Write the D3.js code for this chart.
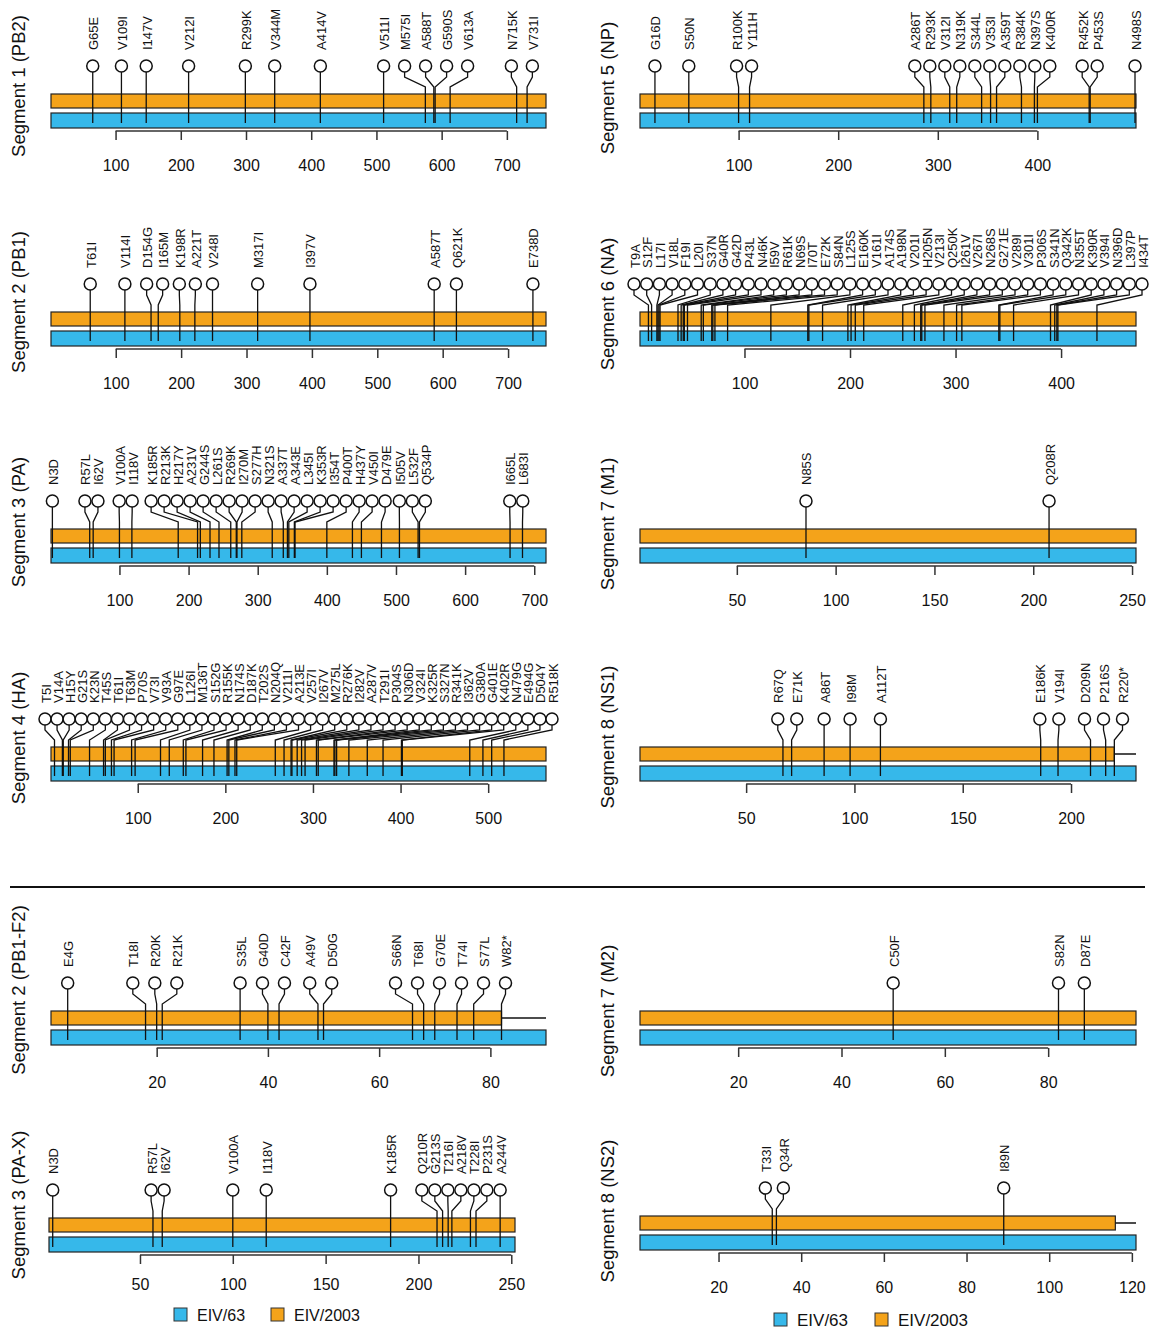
<!DOCTYPE html>
<html>
<head>
<meta charset="utf-8">
<script src="https://cdn.jsdelivr.net/npm/d3@7"></script>
<style>
  body { margin: 0; background: #fff; }
  text { font-family: "Liberation Sans", Arial, Helvetica, sans-serif; }
</style>
</head>
<body>
<div id="chart"></div>
<script>
// Panel titles, protein lengths (EIV/63 and EIV/2003) and tick values
const segTitles = ["Segment 1 (PB2)", "Segment 2 (PB1)", "Segment 3 (PA)", "Segment 4 (HA)",
                   "Segment 5 (NP)", "Segment 6 (NA)", "Segment 7 (M1)", "Segment 8 (NS1)",
                   "Segment 2 (PB1-F2)", "Segment 7 (M2)", "Segment 3 (PA-X)", "Segment 8 (NS2)"];
const len63   = [760, 758, 717, 566, 499, 471, 252, 230, 90, 97, 252, 121];
const len2003 = [760, 758, 717, 566, 499, 471, 252, 220, 82, 97, 252, 116];
const ticks = [
  [100, 200, 300, 400, 500, 600, 700],
  [100, 200, 300, 400, 500, 600, 700],
  [100, 200, 300, 400, 500, 600, 700],
  [100, 200, 300, 400, 500],
  [100, 200, 300, 400],
  [100, 200, 300, 400],
  [50, 100, 150, 200, 250],
  [50, 100, 150, 200],
  [20, 40, 60, 80],
  [20, 40, 60, 80],
  [50, 100, 150, 200, 250],
  [20, 40, 60, 80, 100, 120]
];

// Amino-acid changes per protein (position is the number in the label)
const mutPB2 = ["G65E", "V109I", "I147V", "V212I", "R299K", "V344M", "A414V", "V511I", "M575I",
                "A588T", "G590S", "V613A", "N715K", "V731I"];
const mutPB1 = ["T61I", "V114I", "D154G", "I165M", "K198R", "A221T", "V248I", "M317I", "I397V",
                "A587T", "Q621K", "E738D"];
const mutPA = ["N3D", "R57L", "I62V", "V100A", "I118V", "K185R", "R213K", "H217Y", "A231V", "G244S",
               "L261S", "R269K", "I270M", "S277H", "N321S", "A337T", "A343E", "L345I", "K353R",
               "I354T", "P400T", "H437Y", "V450I", "D479E", "I505V", "L532F", "Q534P", "I665L", "L683I"];
const mutHA = ["T5I", "V14A", "H15Y", "G21S", "K23N", "T45S", "T61I", "T63M", "P70S", "V73I", "V93A",
               "G97E", "L126I", "M136T", "S152G", "R155K", "N174S", "D187K", "T202S", "N204Q", "V211I",
               "A213E", "V257I", "I267V", "M275L", "R276K", "I282V", "A287V", "T291I", "P304S", "N306D",
               "V324I", "K325R", "S327N", "R341K", "I362V", "G380A", "G401E", "K402R", "N479G", "E494G",
               "D504Y", "R518K"];
const mutNP = ["G16D", "S50N", "R100K", "Y111H", "A286T", "R293K", "V312I", "N319K", "S344L", "V353I",
               "A359T", "R384K", "N397S", "K400R", "R452K", "P453S", "N498S"];
const mutNA = ["T9A", "S12F", "L17I", "V18L", "F19I", "L20I", "S37N", "G40R", "G42D", "P43L", "N46K",
               "I59V", "R61K", "N69S", "I70T", "E72K", "S84N", "L125S", "E160K", "V161I", "A174S",
               "A198N", "V201I", "H205N", "V213I", "Q250K", "I261V", "V267I", "N268S", "G271E", "V289I",
               "V301I", "P306S", "S341N", "Q342K", "N355T", "K390R", "V394I", "N396D", "L397P", "I434T"];
const mutM1 = ["N85S", "Q208R"];
const mutNS1 = ["R67Q", "E71K", "A86T", "I98M", "A112T", "E186K", "V194I", "D209N", "P216S", "R220*"];
const mutPB1F2 = ["E4G", "T18I", "R20K", "R21K", "S35L", "G40D", "C42F", "A49V", "D50G", "S66N",
                  "T68I", "G70E", "T74I", "S77L", "W82*"];
const mutM2 = ["C50F", "S82N", "D87E"];
const mutPAX = ["N3D", "R57L", "I62V", "V100A", "I118V", "K185R", "Q210R", "G213S", "T216I", "A218V",
                "T228I", "P231S", "A244V"];
const mutNS2 = ["T33I", "Q34R", "I89N"];
const mutations = [mutPB2, mutPB1, mutPA, mutHA, mutNP, mutNA, mutM1, mutNS1, mutPB1F2, mutM2, mutPAX, mutNS2];

const legendNames = ["EIV/63", "EIV/2003"];
const col63 = "#36b8ea", col2003 = "#f4a31a";

// layout of the 12 panels (gap = preferred spacing between lollipop heads)
const layout = [
  {x0: 51, x1: 546, cy: 66, tx: 18, ty: 86, gap: 21},
  {x0: 51, x1: 546, cy: 284, tx: 18, ty: 302, gap: 16},
  {x0: 51, x1: 546, cy: 501, tx: 18, ty: 522, gap: 13},
  {x0: 51, x1: 546, cy: 719, tx: 18, ty: 738, gap: 14},
  {x0: 640, x1: 1136, cy: 66, tx: 607, ty: 88, gap: 15},
  {x0: 640, x1: 1136, cy: 284, tx: 607, ty: 304, gap: 14},
  {x0: 640, x1: 1136, cy: 501, tx: 607, ty: 524, gap: 15},
  {x0: 640, x1: 1136, cy: 719, tx: 607, ty: 737, gap: 19},
  {x0: 51, x1: 546, cy: 983, tx: 18, ty: 990, gap: 22},
  {x0: 640, x1: 1136, cy: 983, tx: 607, ty: 1011, gap: 15},
  {x0: 49, x1: 515, cy: 1190, tx: 18, ty: 1205, gap: 13, pad: 15},
  {x0: 640, x1: 1136, cy: 1188, tx: 607, ty: 1211, gap: 18}
];

const W = 1161, H = 1330, R = 6;

const svg = d3.select("#chart").append("svg")
  .attr("width", W)
  .attr("height", H);

// spread lollipop heads so they don't overlap (cluster averaging)
function spread(xs, gap, lo, hi) {
  if (xs.length > 1) gap = Math.min(gap, (hi - lo) / (xs.length - 1));
  const clusters = [];
  xs.forEach(x => {
    clusters.push({n: 1, sum: x, pos: x});
    while (true) {
      const cur = clusters[clusters.length - 1];
      cur.pos = Math.max(lo, Math.min(hi - (cur.n - 1) * gap, cur.sum / cur.n));
      const prev = clusters[clusters.length - 2];
      if (prev && prev.pos + prev.n * gap > cur.pos) {
        prev.sum += cur.sum - cur.n * prev.n * gap;
        prev.n += cur.n;
        clusters.pop();
      } else break;
    }
  });
  const out = [];
  clusters.forEach(c => { for (let k = 0; k < c.n; k++) out.push(c.pos + k * gap); });
  return out;
}

function drawPanel(i) {
  const L = layout[i];
  const g = svg.append("g");
  const x = d3.scaleLinear().domain([1, len63[i]]).range([L.x0, L.x1]);

  const oTop = L.cy + 28, bTop = L.cy + 47, barH = 14;

  // title
  g.append("text")
    .attr("transform", `translate(${L.tx},${L.ty}) rotate(-90)`)
    .attr("text-anchor", "middle")
    .attr("dominant-baseline", "central")
    .attr("font-size", "18.5px")
    .attr("fill", "#111")
    .text(segTitles[i]);

  // bars
  const end2003 = x(len2003[i]);
  g.append("rect")
    .attr("x", x(1)).attr("y", oTop)
    .attr("width", end2003 - x(1)).attr("height", barH)
    .attr("fill", col2003).attr("stroke", "#222").attr("stroke-width", 1.2);
  if (len2003[i] < len63[i]) {
    g.append("line")
      .attr("x1", end2003).attr("x2", x(len63[i]))
      .attr("y1", oTop + barH / 2).attr("y2", oTop + barH / 2)
      .attr("stroke", "#111").attr("stroke-width", 1.5);
  }
  g.append("rect")
    .attr("x", x(1)).attr("y", bTop)
    .attr("width", x(len63[i]) - x(1)).attr("height", barH + 1)
    .attr("fill", col63).attr("stroke", "#222").attr("stroke-width", 1.2);

  // axis
  const ay = L.cy + 65;
  const axis = d3.axisBottom(x).tickValues(ticks[i]).tickSize(9)
    .tickPadding(L.pad || 20).tickSizeOuter(0);
  const ag = g.append("g").attr("transform", `translate(0,${ay})`).call(axis);
  ag.select(".domain")
    .attr("d", `M${x(ticks[i][0])},0H${x(ticks[i][ticks[i].length - 1])}`)
    .attr("stroke", "#333").attr("stroke-width", 1.5);
  ag.selectAll(".tick line").attr("stroke", "#333").attr("stroke-width", 1.5);
  ag.selectAll(".tick text")
    .attr("font-size", "16px")
    .attr("font-family", "Liberation Sans, Arial, sans-serif")
    .attr("fill", "#111");

  // lollipops
  const muts = mutations[i].map(m => ({label: m, pos: +m.match(/\d+/)[0]}))
    .sort((a, b) => a.pos - b.pos);
  const heads = spread(muts.map(d => x(d.pos)), L.gap, L.x0 - 6, L.x1 + 6);
  muts.forEach((d, k) => { d.cx = heads[k]; });

  const yBottom = bTop + barH - 4, yKink = oTop - 7, yKinkTop = L.cy + R + 5;
  g.selectAll("path.stem").data(muts).enter().append("path")
    .attr("class", "stem")
    .attr("d", d => `M${x(d.pos)},${yBottom}V${yKink}L${d.cx},${yKinkTop}V${L.cy + R}`)
    .attr("fill", "none").attr("stroke", "#111").attr("stroke-width", 1.3);

  g.selectAll("circle.head").data(muts).enter().append("circle")
    .attr("class", "head")
    .attr("cx", d => d.cx).attr("cy", L.cy).attr("r", R)
    .attr("fill", "#fff").attr("stroke", "#111").attr("stroke-width", 1.5);

  g.selectAll("text.lab").data(muts).enter().append("text")
    .attr("class", "lab")
    .attr("transform", d => `translate(${d.cx + 1},${L.cy - 16}) rotate(-90)`)
    .attr("dominant-baseline", "central")
    .attr("font-size", "13px")
    .attr("fill", "#111")
    .text(d => d.label);
}

d3.range(12).forEach(drawPanel);

// separator between the main proteins and the accessory ones
svg.append("line")
  .attr("x1", 10).attr("x2", 1145).attr("y1", 887).attr("y2", 887)
  .attr("stroke", "#111").attr("stroke-width", 2);

// legends
function legend(x, y, gap, fs) {
  const lg = svg.append("g").attr("transform", `translate(${x},${y})`);
  [col63, col2003].forEach((c, k) => {
    lg.append("rect")
      .attr("x", k * gap).attr("y", -7).attr("width", 13).attr("height", 13)
      .attr("fill", c).attr("stroke", "#333").attr("stroke-width", 1);
    lg.append("text")
      .attr("x", k * gap + 23).attr("y", 0)
      .attr("dominant-baseline", "central")
      .attr("font-size", fs)
      .attr("fill", "#111")
      .text(legendNames[k]);
  });
}
legend(174, 1315, 97, "16px");
legend(774, 1320, 101, "17px");
</script>
</body>
</html>
